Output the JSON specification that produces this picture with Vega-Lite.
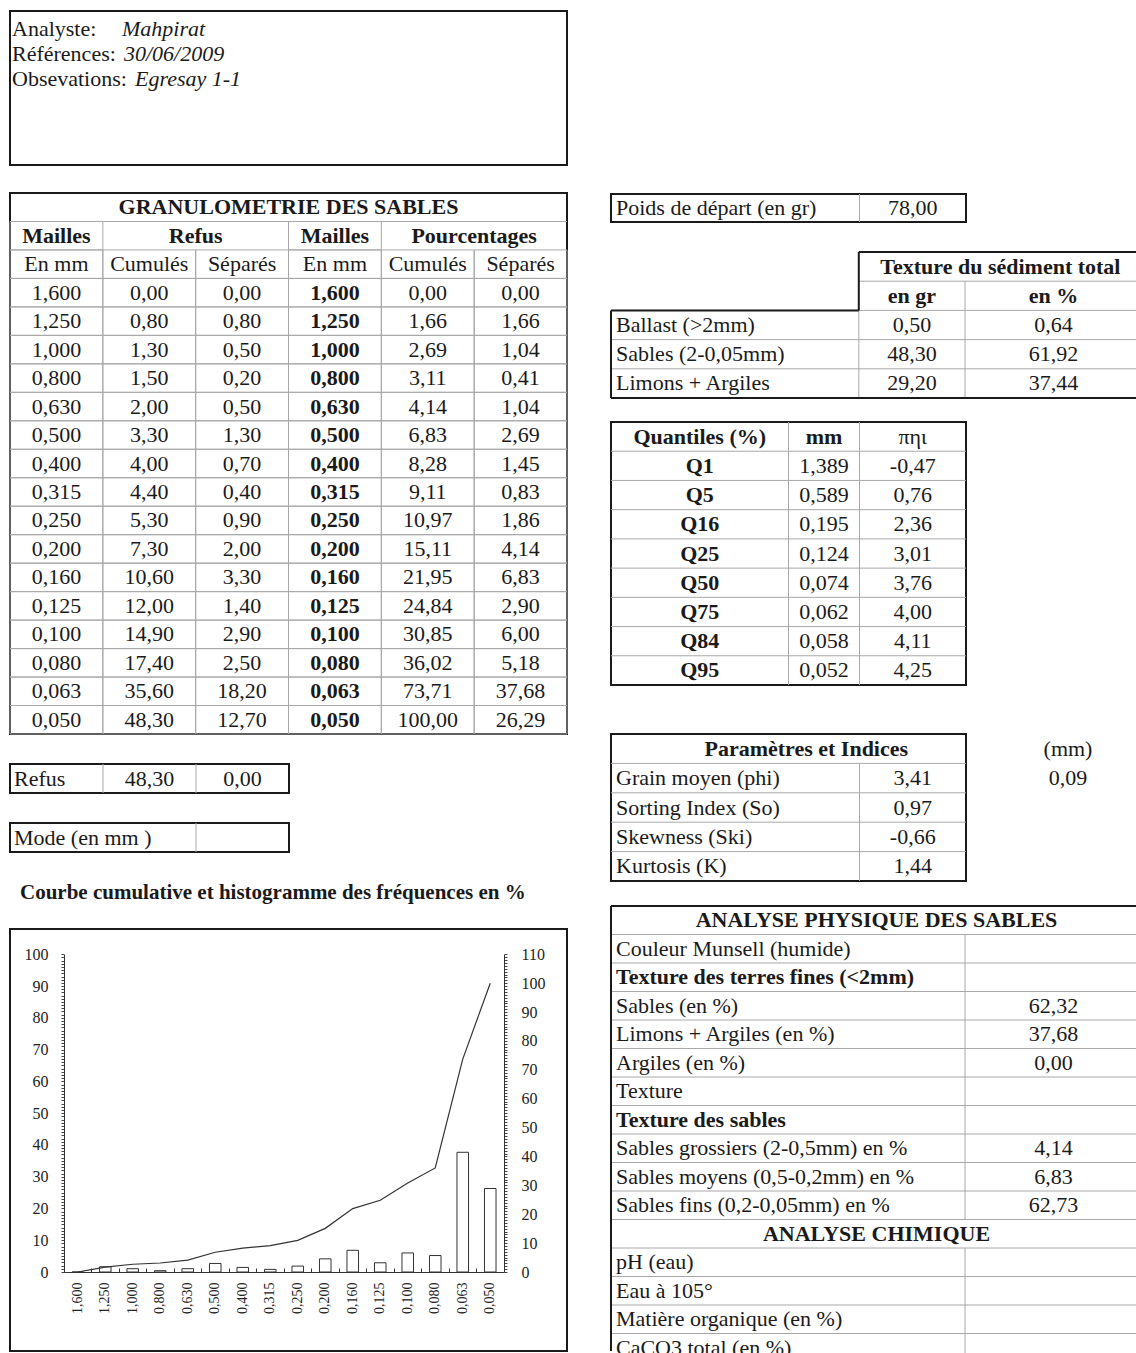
{
"$schema": "https://vega.github.io/schema/vega-lite/v6.json",
"background": "white",
"padding": {"left": 8, "top": 10, "right": 0, "bottom": 0},
"config": {
  "font": "Liberation Serif",
  "view": {"stroke": "#1a1a1a", "strokeWidth": 2},
  "text": {"fontSize": 22, "color": "#1a1a1a", "font": "Liberation Serif"},
  "rule": {"color": "#a8a8a8", "strokeWidth": 1},
  "scale": {"bandPaddingInner": 0, "bandPaddingOuter": 0},
  "locale": {"number": {"decimal": ",", "thousands": ".", "grouping": [3], "currency": ["", " €"], "minus": "-"}}
},
"datasets": {
  "header": [
    {"label": "Analyste:", "value": "Mahpirat"},
    {"label": "Références:", "value": "30/06/2009"},
    {"label": "Obsevations:", "value": "Egresay 1-1"}
  ],
  "granulo": [
    {"maille": "1,600", "refus_cum": 0.00, "refus_sep": 0.00, "pct_cum": 0.00, "pct_sep": 0.00},
    {"maille": "1,250", "refus_cum": 0.80, "refus_sep": 0.80, "pct_cum": 1.66, "pct_sep": 1.66},
    {"maille": "1,000", "refus_cum": 1.30, "refus_sep": 0.50, "pct_cum": 2.69, "pct_sep": 1.04},
    {"maille": "0,800", "refus_cum": 1.50, "refus_sep": 0.20, "pct_cum": 3.11, "pct_sep": 0.41},
    {"maille": "0,630", "refus_cum": 2.00, "refus_sep": 0.50, "pct_cum": 4.14, "pct_sep": 1.04},
    {"maille": "0,500", "refus_cum": 3.30, "refus_sep": 1.30, "pct_cum": 6.83, "pct_sep": 2.69},
    {"maille": "0,400", "refus_cum": 4.00, "refus_sep": 0.70, "pct_cum": 8.28, "pct_sep": 1.45},
    {"maille": "0,315", "refus_cum": 4.40, "refus_sep": 0.40, "pct_cum": 9.11, "pct_sep": 0.83},
    {"maille": "0,250", "refus_cum": 5.30, "refus_sep": 0.90, "pct_cum": 10.97, "pct_sep": 1.86},
    {"maille": "0,200", "refus_cum": 7.30, "refus_sep": 2.00, "pct_cum": 15.11, "pct_sep": 4.14},
    {"maille": "0,160", "refus_cum": 10.60, "refus_sep": 3.30, "pct_cum": 21.95, "pct_sep": 6.83},
    {"maille": "0,125", "refus_cum": 12.00, "refus_sep": 1.40, "pct_cum": 24.84, "pct_sep": 2.90},
    {"maille": "0,100", "refus_cum": 14.90, "refus_sep": 2.90, "pct_cum": 30.85, "pct_sep": 6.00},
    {"maille": "0,080", "refus_cum": 17.40, "refus_sep": 2.50, "pct_cum": 36.02, "pct_sep": 5.18},
    {"maille": "0,063", "refus_cum": 35.60, "refus_sep": 18.20, "pct_cum": 73.71, "pct_sep": 37.68},
    {"maille": "0,050", "refus_cum": 48.30, "refus_sep": 12.70, "pct_cum": 100.00, "pct_sep": 26.29}
  ],
  "granulo_head": [
    {"row": "title", "col": "refus_sep", "text": "GRANULOMETRIE  DES  SABLES", "kind": "title"},
    {"row": "head", "col": "maille", "text": "Mailles", "kind": "head"},
    {"row": "head", "col": "refus_cum", "text": "Refus", "kind": "span"},
    {"row": "head", "col": "maille_b", "text": "Mailles", "kind": "head"},
    {"row": "head", "col": "pct_cum", "text": "Pourcentages", "kind": "span"},
    {"row": "sub", "col": "maille", "text": "En mm", "kind": "sub"},
    {"row": "sub", "col": "refus_cum", "text": "Cumulés", "kind": "sub"},
    {"row": "sub", "col": "refus_sep", "text": "Séparés", "kind": "sub"},
    {"row": "sub", "col": "maille_b", "text": "En mm", "kind": "sub"},
    {"row": "sub", "col": "pct_cum", "text": "Cumulés", "kind": "sub"},
    {"row": "sub", "col": "pct_sep", "text": "Séparés", "kind": "sub"}
  ],
  "texture": [
    {"item": "Ballast (>2mm)", "gr": 0.50, "pct": 0.64},
    {"item": "Sables (2-0,05mm)", "gr": 48.30, "pct": 61.92},
    {"item": "Limons + Argiles", "gr": 29.20, "pct": 37.44}
  ],
  "quantiles": [
    {"q": "Q1", "mm": 1.389, "phi": -0.47},
    {"q": "Q5", "mm": 0.589, "phi": 0.76},
    {"q": "Q16", "mm": 0.195, "phi": 2.36},
    {"q": "Q25", "mm": 0.124, "phi": 3.01},
    {"q": "Q50", "mm": 0.074, "phi": 3.76},
    {"q": "Q75", "mm": 0.062, "phi": 4.00},
    {"q": "Q84", "mm": 0.058, "phi": 4.11},
    {"q": "Q95", "mm": 0.052, "phi": 4.25}
  ],
  "params": [
    {"param": "Grain moyen  (phi)", "value": 3.41},
    {"param": "Sorting Index  (So)", "value": 0.97},
    {"param": "Skewness  (Ski)", "value": -0.66},
    {"param": "Kurtosis  (K)", "value": 1.44}
  ],
  "analyse": [
    {"label": "ANALYSE  PHYSIQUE DES SABLES", "kind": "title", "value": null},
    {"label": "Couleur Munsell (humide)", "kind": "item", "value": null},
    {"label": "Texture des terres fines  (<2mm)", "kind": "section", "value": null},
    {"label": "Sables (en %)", "kind": "item", "value": 62.32},
    {"label": "Limons + Argiles (en %)", "kind": "item", "value": 37.68},
    {"label": "Argiles (en %)", "kind": "item", "value": 0.00},
    {"label": "Texture", "kind": "item", "value": null},
    {"label": "Texture des sables", "kind": "section", "value": null},
    {"label": "Sables grossiers (2-0,5mm) en %", "kind": "item", "value": 4.14},
    {"label": "Sables moyens (0,5-0,2mm) en %", "kind": "item", "value": 6.83},
    {"label": "Sables fins (0,2-0,05mm) en %", "kind": "item", "value": 62.73},
    {"label": "ANALYSE CHIMIQUE", "kind": "title", "value": null},
    {"label": "pH (eau)", "kind": "item", "value": null},
    {"label": "Eau à 105°", "kind": "item", "value": null},
    {"label": "Matière organique (en %)", "kind": "item", "value": null},
    {"label": "CaCO3  total (en %)", "kind": "item", "value": null}
  ]
},
"spacing": 40,
"hconcat": [
{
 "spacing": 27,
 "vconcat": [
  {
   "spacing": 26,
   "vconcat": [
    {
     "width": 557, "height": 154,
     "data": {"name": "header"},
     "layer": [
      {"mark": {"type": "text", "align": "left", "dx": 2},
       "encoding": {
        "x": {"datum": "line", "type": "nominal", "bandPosition": 0, "scale": {"type": "band", "domain": ["line"]}, "axis": null},
        "y": {"field": "label", "type": "nominal", "scale": {"type": "band", "domain": ["Analyste:", "Références:", "Obsevations:"], "range": [5, 81]}, "axis": null},
        "text": {"field": "label"}}},
      {"transform": [{"filter": "datum.label === 'Analyste:'"}],
       "mark": {"type": "text", "align": "left", "dx": 112, "fontStyle": "italic"},
       "encoding": {"x": {"datum": "line", "type": "nominal", "bandPosition": 0}, "y": {"field": "label", "type": "nominal"}, "text": {"field": "value"}}},
      {"transform": [{"filter": "datum.label === 'Références:'"}],
       "mark": {"type": "text", "align": "left", "dx": 114, "fontStyle": "italic"},
       "encoding": {"x": {"datum": "line", "type": "nominal", "bandPosition": 0}, "y": {"field": "label", "type": "nominal"}, "text": {"field": "value"}}},
      {"transform": [{"filter": "datum.label === 'Obsevations:'"}],
       "mark": {"type": "text", "align": "left", "dx": 125, "fontStyle": "italic"},
       "encoding": {"x": {"datum": "line", "type": "nominal", "bandPosition": 0}, "y": {"field": "label", "type": "nominal"}, "text": {"field": "value"}}}
     ]
    },
    {
     "width": 557, "height": 541,
     "data": {"name": "granulo"},
     "encoding": {
      "y": {"field": "maille", "type": "nominal", "scale": {"type": "band", "domain": ["title", "head", "sub", "1,600", "1,250", "1,000", "0,800", "0,630", "0,500", "0,400", "0,315", "0,250", "0,200", "0,160", "0,125", "0,100", "0,080", "0,063", "0,050"]}, "axis": null}
     },
     "layer": [
      {"transform": [{"fold": ["refus_cum", "refus_sep", "pct_cum", "pct_sep"]}],
       "mark": {"type": "rect", "filled": false, "stroke": "#a8a8a8", "strokeWidth": 1},
       "encoding": {"x": {"field": "key", "type": "nominal", "scale": {"type": "band", "domain": ["maille", "refus_cum", "refus_sep", "maille_b", "pct_cum", "pct_sep"]}, "axis": null}}},
      {"mark": {"type": "rect", "filled": false, "stroke": "#a8a8a8", "strokeWidth": 1},
       "encoding": {"x": {"datum": "maille", "type": "nominal"}}},
      {"mark": {"type": "rect", "filled": false, "stroke": "#a8a8a8", "strokeWidth": 1},
       "encoding": {"x": {"datum": "maille_b", "type": "nominal"}}},
      {"data": {"name": "granulo_head"},
       "transform": [{"filter": "datum.kind === 'head' || datum.kind === 'sub'"}],
       "mark": {"type": "rect", "filled": false, "stroke": "#a8a8a8", "strokeWidth": 1},
       "encoding": {"x": {"field": "col", "type": "nominal"}, "y": {"field": "row", "type": "nominal"}}},
      {"data": {"values": [{}]},
       "mark": {"type": "rule"},
       "encoding": {"y": {"datum": "head", "type": "nominal", "bandPosition": 0}}},
      {"transform": [{"fold": ["refus_cum", "refus_sep", "pct_cum", "pct_sep"]}],
       "mark": {"type": "text"},
       "encoding": {"x": {"field": "key", "type": "nominal"}, "text": {"field": "value", "type": "quantitative", "format": ".2f"}}},
      {"mark": {"type": "text"},
       "encoding": {"x": {"datum": "maille", "type": "nominal"}, "text": {"field": "maille"}}},
      {"mark": {"type": "text", "fontWeight": "bold"},
       "encoding": {"x": {"datum": "maille_b", "type": "nominal"}, "text": {"field": "maille"}}},
      {"data": {"name": "granulo_head"},
       "transform": [{"filter": "datum.kind === 'title' || datum.kind === 'span'"}],
       "mark": {"type": "text", "fontWeight": "bold"},
       "encoding": {"x": {"field": "col", "type": "nominal", "bandPosition": 1}, "y": {"field": "row", "type": "nominal"}, "text": {"field": "text"}}},
      {"data": {"name": "granulo_head"},
       "transform": [{"filter": "datum.kind === 'head'"}],
       "mark": {"type": "text", "fontWeight": "bold"},
       "encoding": {"x": {"field": "col", "type": "nominal"}, "y": {"field": "row", "type": "nominal"}, "text": {"field": "text"}}},
      {"data": {"name": "granulo_head"},
       "transform": [{"filter": "datum.kind === 'sub'"}],
       "mark": {"type": "text"},
       "encoding": {"x": {"field": "col", "type": "nominal"}, "y": {"field": "row", "type": "nominal"}, "text": {"field": "text"}}}
     ]
    },
    {
     "width": 279, "height": 29,
     "data": {"values": [{"label": "Refus", "cum": 48.30, "sep": 0.00}]},
     "layer": [
      {"mark": "rule", "encoding": {"x": {"datum": "cum", "type": "nominal", "bandPosition": 0, "scale": {"type": "band", "domain": ["label", "cum", "sep"]}, "axis": null}}},
      {"mark": "rule", "encoding": {"x": {"datum": "sep", "type": "nominal", "bandPosition": 0}}},
      {"mark": {"type": "text", "align": "left", "dx": 4}, "encoding": {"x": {"datum": "label", "type": "nominal", "bandPosition": 0}, "text": {"field": "label"}}},
      {"mark": {"type": "text"}, "encoding": {"x": {"datum": "cum", "type": "nominal"}, "text": {"field": "cum", "type": "quantitative", "format": ".2f"}}},
      {"mark": {"type": "text"}, "encoding": {"x": {"datum": "sep", "type": "nominal"}, "text": {"field": "sep", "type": "quantitative", "format": ".2f"}}}
     ]
    },
    {
     "width": 279, "height": 29,
     "data": {"values": [{"label": "Mode (en mm )"}]},
     "layer": [
      {"mark": "rule", "encoding": {"x": {"datum": "c", "type": "nominal", "bandPosition": 0, "scale": {"type": "band", "domain": ["a", "b", "c"]}, "axis": null}}},
      {"mark": {"type": "text", "align": "left", "dx": 4}, "encoding": {"x": {"datum": "a", "type": "nominal", "bandPosition": 0}, "text": {"field": "label"}}}
     ]
    }
   ]
  },
  {
   "width": 557, "height": 422,
   "title": {"text": "Courbe cumulative et histogramme des fréquences en %", "anchor": "start", "fontSize": 21, "fontWeight": "bold", "font": "Liberation Serif", "color": "#1a1a1a", "offset": 26, "dx": 10},
   "data": {"name": "granulo"},
   "layer": [
    {"mark": {"type": "bar", "width": {"band": 0.42}, "fill": "white", "stroke": "#333333", "strokeWidth": 1},
     "encoding": {
      "x": {"field": "maille", "type": "nominal",
            "scale": {"domain": ["1,600", "1,250", "1,000", "0,800", "0,630", "0,500", "0,400", "0,315", "0,250", "0,200", "0,160", "0,125", "0,100", "0,080", "0,063", "0,050"], "range": [54, 494]},
            "axis": {"orient": "bottom", "offset": -79, "labelAngle": 270, "labelAlign": "right", "labelBaseline": "middle", "labelFontSize": 14, "labelPadding": 10, "labelColor": "#222222", "ticks": false, "domainColor": "#333333", "title": null}},
      "y": {"field": "pct_sep", "type": "quantitative",
            "scale": {"domain": [0, 100], "range": [343, 25.3], "nice": false, "zero": false},
            "axis": {"orient": "left", "offset": -54, "tickCount": 100, "labelExpr": "datum.value % 10 === 0 ? datum.label : ''", "labelOverlap": false, "labelFlush": false, "labelFontSize": 16, "labelPadding": 13, "labelColor": "#222222", "tickSize": 3, "tickColor": "#444444", "domainColor": "#333333", "grid": false, "title": null}}
     }},
    {"mark": {"type": "line", "color": "#333333", "strokeWidth": 1.2},
     "encoding": {
      "x": {"field": "maille", "type": "nominal",
            "axis": {"orient": "top", "offset": -343, "bandPosition": 0, "labels": false, "domain": false, "ticks": true, "tickSize": 4, "tickColor": "#333333", "title": null}},
      "y": {"field": "pct_cum", "type": "quantitative",
            "scale": {"domain": [0, 110], "range": [343, 25.3], "nice": false, "zero": false},
            "axis": {"orient": "right", "offset": -63, "tickCount": 110, "labelExpr": "datum.value % 10 === 0 ? datum.label : ''", "labelOverlap": false, "labelFlush": false, "labelFontSize": 16, "labelPadding": 14, "labelColor": "#222222", "tickSize": 3, "tickColor": "#444444", "domainColor": "#333333", "grid": false, "title": null}}
     }}
   ],
   "resolve": {"scale": {"y": "independent"}, "axis": {"x": "independent"}}
  }
 ]
},
{
 "spacing": 46,
 "vconcat": [
  {"width": 10, "height": 135, "data": {"values": []}, "mark": "point", "view": {"stroke": null}},
  {
   "spacing": 21,
   "vconcat": [
    {
     "spacing": 27,
     "vconcat": [
      {
       "width": 355, "height": 28,
       "data": {"values": [{"label": "Poids de départ (en gr)", "weight": 78.00}]},
       "layer": [
        {"mark": "rule", "encoding": {"x": {"datum": "s7", "type": "nominal", "bandPosition": 0, "scale": {"type": "band", "domain": ["s0", "s1", "s2", "s3", "s4", "s5", "s6", "s7", "s8", "s9"]}, "axis": null}}},
        {"mark": {"type": "text", "align": "left", "dx": 5}, "encoding": {"x": {"datum": "s0", "type": "nominal", "bandPosition": 0}, "text": {"field": "label"}}},
        {"mark": {"type": "text"}, "encoding": {"x": {"datum": "s8", "type": "nominal"}, "text": {"field": "weight", "type": "quantitative", "format": ".2f"}}}
       ]
      },
      {
       "width": 531, "height": 146,
       "view": {"stroke": null},
       "data": {"name": "texture"},
       "layer": [
        {"mark": "rule", "encoding": {"y": {"field": "item", "type": "nominal", "bandPosition": 0, "scale": {"type": "band", "domain": ["head", "unit", "Ballast (>2mm)", "Sables (2-0,05mm)", "Limons + Argiles"]}, "axis": null}}},
        {"data": {"values": [{}]}, "mark": "rule",
         "encoding": {"x": {"datum": "s7", "type": "nominal", "bandPosition": 0, "scale": {"type": "band", "domain": ["s0", "s1", "s2", "s3", "s4", "s5", "s6", "s7", "s8", "s9", "s10", "s11", "s12", "s13", "s14"]}, "axis": null},
                      "x2": {"datum": "s14", "bandPosition": 1},
                      "y": {"datum": "unit", "type": "nominal", "bandPosition": 0}}},
        {"data": {"values": [{}]}, "mark": "rule",
         "encoding": {"x": {"datum": "s7", "type": "nominal", "bandPosition": 0},
                      "y": {"datum": "Ballast (>2mm)", "type": "nominal", "bandPosition": 0},
                      "y2": {"datum": "Limons + Argiles", "bandPosition": 1}}},
        {"data": {"values": [{}]}, "mark": "rule",
         "encoding": {"x": {"datum": "s10", "type": "nominal", "bandPosition": 0},
                      "y": {"datum": "unit", "type": "nominal", "bandPosition": 0},
                      "y2": {"datum": "Limons + Argiles", "bandPosition": 1}}},
        {"data": {"values": [{}]}, "mark": {"type": "rule", "color": "#1a1a1a", "strokeWidth": 2},
         "encoding": {"x": {"datum": "s7", "type": "nominal", "bandPosition": 0},
                      "x2": {"datum": "s14", "bandPosition": 1},
                      "y": {"datum": "head", "type": "nominal", "bandPosition": 0}}},
        {"data": {"values": [{}]}, "mark": {"type": "rule", "color": "#1a1a1a", "strokeWidth": 2},
         "encoding": {"x": {"datum": "s7", "type": "nominal", "bandPosition": 0},
                      "y": {"datum": "head", "type": "nominal", "bandPosition": 0},
                      "y2": {"datum": "unit", "bandPosition": 1}}},
        {"data": {"values": [{}]}, "mark": {"type": "rule", "color": "#1a1a1a", "strokeWidth": 2},
         "encoding": {"x": {"datum": "s0", "type": "nominal", "bandPosition": 0},
                      "x2": {"datum": "s7", "bandPosition": 0},
                      "y": {"datum": "Ballast (>2mm)", "type": "nominal", "bandPosition": 0}}},
        {"data": {"values": [{}]}, "mark": {"type": "rule", "color": "#1a1a1a", "strokeWidth": 2},
         "encoding": {"x": {"datum": "s0", "type": "nominal", "bandPosition": 0},
                      "y": {"datum": "Ballast (>2mm)", "type": "nominal", "bandPosition": 0},
                      "y2": {"datum": "Limons + Argiles", "bandPosition": 1}}},
        {"data": {"values": [{}]}, "mark": {"type": "rule", "color": "#1a1a1a", "strokeWidth": 2},
         "encoding": {"y": {"datum": "Limons + Argiles", "type": "nominal", "bandPosition": 1}}},
        {"mark": {"type": "text", "align": "left", "dx": 5},
         "encoding": {"x": {"datum": "s0", "type": "nominal", "bandPosition": 0}, "y": {"field": "item", "type": "nominal"}, "text": {"field": "item"}}},
        {"mark": {"type": "text"},
         "encoding": {"x": {"datum": "s8", "type": "nominal"}, "y": {"field": "item", "type": "nominal"}, "text": {"field": "gr", "type": "quantitative", "format": ".2f"}}},
        {"mark": {"type": "text"},
         "encoding": {"x": {"datum": "s12", "type": "nominal"}, "y": {"field": "item", "type": "nominal"}, "text": {"field": "pct", "type": "quantitative", "format": ".2f"}}},
        {"data": {"values": [{}]}, "mark": {"type": "text", "fontWeight": "bold", "text": "Texture du sédiment total"},
         "encoding": {"x": {"datum": "s10", "type": "nominal", "bandPosition": 1}, "y": {"datum": "head", "type": "nominal"}}},
        {"data": {"values": [{}]}, "mark": {"type": "text", "fontWeight": "bold", "text": "en gr"},
         "encoding": {"x": {"datum": "s8", "type": "nominal"}, "y": {"datum": "unit", "type": "nominal"}}},
        {"data": {"values": [{}]}, "mark": {"type": "text", "fontWeight": "bold", "text": "en %"},
         "encoding": {"x": {"datum": "s12", "type": "nominal"}, "y": {"datum": "unit", "type": "nominal"}}}
       ]
      }
     ]
    },
    {
     "width": 355, "height": 263,
     "data": {"name": "quantiles"},
     "layer": [
      {"mark": "rule", "encoding": {"y": {"field": "q", "type": "nominal", "bandPosition": 0, "scale": {"type": "band", "domain": ["head", "Q1", "Q5", "Q16", "Q25", "Q50", "Q75", "Q84", "Q95"]}, "axis": null}}},
      {"data": {"values": [{}]}, "mark": "rule", "encoding": {"x": {"datum": "s5", "type": "nominal", "bandPosition": 0, "scale": {"type": "band", "domain": ["s0", "s1", "s2", "s3", "s4", "s5", "s6", "s7", "s8", "s9"]}, "axis": null}}},
      {"data": {"values": [{}]}, "mark": "rule", "encoding": {"x": {"datum": "s7", "type": "nominal", "bandPosition": 0}}},
      {"data": {"values": [{}]}, "mark": {"type": "text", "fontWeight": "bold", "text": "Quantiles (%)"},
       "encoding": {"x": {"datum": "s2", "type": "nominal"}, "y": {"datum": "head", "type": "nominal"}}},
      {"data": {"values": [{}]}, "mark": {"type": "text", "fontWeight": "bold", "text": "mm"},
       "encoding": {"x": {"datum": "s5", "type": "nominal", "bandPosition": 1}, "y": {"datum": "head", "type": "nominal"}}},
      {"data": {"values": [{}]}, "mark": {"type": "text", "text": "πηι"},
       "encoding": {"x": {"datum": "s8", "type": "nominal"}, "y": {"datum": "head", "type": "nominal"}}},
      {"mark": {"type": "text", "fontWeight": "bold"},
       "encoding": {"x": {"datum": "s2", "type": "nominal"}, "y": {"field": "q", "type": "nominal"}, "text": {"field": "q"}}},
      {"mark": {"type": "text"},
       "encoding": {"x": {"datum": "s5", "type": "nominal", "bandPosition": 1}, "y": {"field": "q", "type": "nominal"}, "text": {"field": "mm", "type": "quantitative", "format": ".3f"}}},
      {"mark": {"type": "text"},
       "encoding": {"x": {"datum": "s8", "type": "nominal"}, "y": {"field": "q", "type": "nominal"}, "text": {"field": "phi", "type": "quantitative", "format": ".2f"}}}
     ]
    }
   ]
  },
  {
   "spacing": 22,
   "vconcat": [
    {
     "spacing": 0,
     "hconcat": [
      {
       "width": 355, "height": 147,
       "data": {"name": "params"},
       "layer": [
        {"mark": "rule", "encoding": {"y": {"field": "param", "type": "nominal", "bandPosition": 0, "scale": {"type": "band", "domain": ["title", "Grain moyen  (phi)", "Sorting Index  (So)", "Skewness  (Ski)", "Kurtosis  (K)"]}, "axis": null}}},
        {"data": {"values": [{}]}, "mark": "rule",
         "encoding": {"x": {"datum": "s7", "type": "nominal", "bandPosition": 0, "scale": {"type": "band", "domain": ["s0", "s1", "s2", "s3", "s4", "s5", "s6", "s7", "s8", "s9"]}, "axis": null},
                      "y": {"datum": "Grain moyen  (phi)", "type": "nominal", "bandPosition": 0},
                      "y2": {"datum": "Kurtosis  (K)", "bandPosition": 1}}},
        {"data": {"values": [{}]}, "mark": {"type": "text", "fontWeight": "bold", "text": "Paramètres et Indices"},
         "encoding": {"x": {"datum": "s5", "type": "nominal"}, "y": {"datum": "title", "type": "nominal"}}},
        {"mark": {"type": "text", "align": "left", "dx": 5},
         "encoding": {"x": {"datum": "s0", "type": "nominal", "bandPosition": 0}, "y": {"field": "param", "type": "nominal"}, "text": {"field": "param"}}},
        {"mark": {"type": "text"},
         "encoding": {"x": {"datum": "s8", "type": "nominal"}, "y": {"field": "param", "type": "nominal"}, "text": {"field": "value", "type": "quantitative", "format": ".2f"}}}
       ]
      },
      {
       "width": 176, "height": 147,
       "view": {"stroke": null},
       "data": {"values": [{"unit": "(mm)", "grain_mm": 0.09}]},
       "layer": [
        {"mark": {"type": "text", "dx": 12},
         "encoding": {"y": {"datum": "title", "type": "nominal", "scale": {"type": "band", "domain": ["title", "grain", "so", "ski", "k"]}, "axis": null}, "text": {"field": "unit"}}},
        {"mark": {"type": "text", "dx": 12},
         "encoding": {"y": {"datum": "grain", "type": "nominal"}, "text": {"field": "grain_mm", "type": "quantitative", "format": ".2f"}}}
       ]
      }
     ]
    },
    {
     "width": 531, "height": 445,
     "view": {"stroke": null},
     "data": {"name": "analyse"},
     "layer": [
      {"mark": "rule", "encoding": {"y": {"field": "label", "type": "nominal", "bandPosition": 0, "scale": {"type": "band", "domain": ["ANALYSE  PHYSIQUE DES SABLES", "Couleur Munsell (humide)", "Texture des terres fines  (<2mm)", "Sables (en %)", "Limons + Argiles (en %)", "Argiles (en %)", "Texture", "Texture des sables", "Sables grossiers (2-0,5mm) en %", "Sables moyens (0,5-0,2mm) en %", "Sables fins (0,2-0,05mm) en %", "ANALYSE CHIMIQUE", "pH (eau)", "Eau à 105°", "Matière organique (en %)", "CaCO3  total (en %)"], "range": [0, 456]}, "axis": null}}},
      {"transform": [{"filter": "datum.kind !== 'title'"}], "mark": "rule",
       "encoding": {"x": {"datum": "s10", "type": "nominal", "bandPosition": 0, "scale": {"type": "band", "domain": ["s0", "s1", "s2", "s3", "s4", "s5", "s6", "s7", "s8", "s9", "s10", "s11", "s12", "s13", "s14"]}, "axis": null},
                    "y": {"field": "label", "type": "nominal", "bandPosition": 0},
                    "y2": {"field": "label", "bandPosition": 1}}},
      {"data": {"values": [{}]}, "mark": {"type": "rule", "color": "#1a1a1a", "strokeWidth": 2},
       "encoding": {"x": {"datum": "s0", "type": "nominal", "bandPosition": 0}}},
      {"data": {"values": [{}]}, "mark": {"type": "rule", "color": "#1a1a1a", "strokeWidth": 2},
       "encoding": {"y": {"datum": "ANALYSE  PHYSIQUE DES SABLES", "type": "nominal", "bandPosition": 0}}},
      {"transform": [{"filter": "datum.kind === 'title'"}], "mark": {"type": "text", "fontWeight": "bold"},
       "encoding": {"x": {"datum": "s7", "type": "nominal"}, "y": {"field": "label", "type": "nominal"}, "text": {"field": "label"}}},
      {"transform": [{"filter": "datum.kind === 'section'"}], "mark": {"type": "text", "fontWeight": "bold", "align": "left", "dx": 5},
       "encoding": {"x": {"datum": "s0", "type": "nominal", "bandPosition": 0}, "y": {"field": "label", "type": "nominal"}, "text": {"field": "label"}}},
      {"transform": [{"filter": "datum.kind === 'item'"}], "mark": {"type": "text", "align": "left", "dx": 5},
       "encoding": {"x": {"datum": "s0", "type": "nominal", "bandPosition": 0}, "y": {"field": "label", "type": "nominal"}, "text": {"field": "label"}}},
      {"transform": [{"filter": "isValid(datum.value)"}], "mark": {"type": "text"},
       "encoding": {"x": {"datum": "s12", "type": "nominal"}, "y": {"field": "label", "type": "nominal"}, "text": {"field": "value", "type": "quantitative", "format": ".2f"}}}
     ]
    }
   ]
  }
 ]
}
]
}
